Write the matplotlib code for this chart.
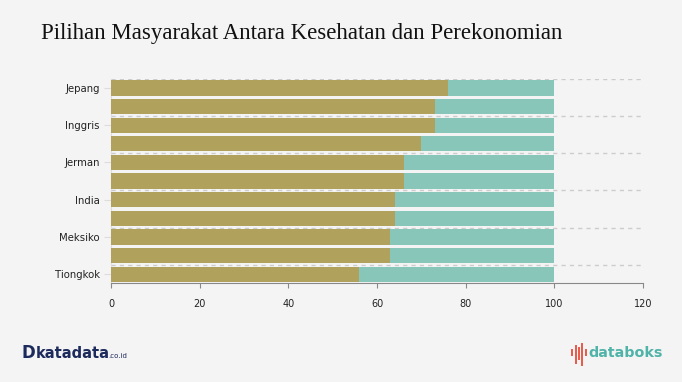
import matplotlib.pyplot as plt
from matplotlib.lines import Line2D

# data (11 rows, only every other row is labelled)
negara = ["Jepang", "", "Inggris", "", "Jerman", "", "India", "", "Meksiko", "", "Tiongkok"]
kesehatan = [76, 73, 73, 70, 66, 66, 64, 64, 63, 63, 56]
perekonomian = [24, 27, 27, 30, 34, 34, 36, 36, 37, 37, 44]
x_ticks = [0, 20, 40, 60, 80, 100, 120]

bg = "#f4f4f4"
olive = "#b0a15d"
teal = "#88c6b9"

fig = plt.figure(figsize=(6.82, 3.82), dpi=100, facecolor=bg)
ax = fig.add_axes([0.1628, 0.258, 0.78, 0.536])
ax.set_facecolor(bg)

pos = list(range(len(negara)))
ax.barh(pos, kesehatan, height=0.82, color=olive, zorder=3)
ax.barh(pos, perekonomian, left=kesehatan, height=0.82, color=teal, zorder=3)

ax.set_xlim(0, 120)
ax.set_ylim(len(negara) - 0.5, -0.5)

# dashed grid lines between every second row
for g in range(0, len(negara), 2):
    ax.axhline(g - 0.5, color="#cccccc", lw=1, ls=(0, (3, 3)), zorder=1)

ax.set_xticks(x_ticks)
ax.set_xticklabels([str(t) for t in x_ticks], fontsize=7, color="#222222")
ax.tick_params(axis="x", length=3.5, color="#888888", pad=8)

lab_pos = [p for p in pos if negara[p]]
ax.set_yticks(lab_pos)
ax.set_yticklabels([negara[p] for p in lab_pos], fontsize=7.3, color="#222222")
ax.tick_params(axis="y", length=5, color="#dddddd", pad=3)

for s in ["top", "right"]:
    ax.spines[s].set_visible(False)
ax.spines["bottom"].set_color("#888888")
ax.spines["left"].set_color("#dddddd")

fig.text(0.06, 0.912, "Pilihan Masyarakat Antara Kesehatan dan Perekonomian",
         fontsize=16.5, family="Liberation Serif", color="#111111", va="center")

# footer logos as text
fig.text(0.031, 0.075, "D", fontsize=12, fontweight="bold", color="#1c2a5c", va="center")
fig.text(0.052, 0.075, "katadata", fontsize=10.5, fontweight="bold", color="#1c2a5c", va="center")
fig.text(0.159, 0.068, ".co.id", fontsize=5, color="#1c2a5c", va="center")

fig.text(0.863, 0.075, "databoks", fontsize=10.3, fontweight="bold", color="#4fb3a8",
         va="center", ha="left")
bars_x = [0.839, 0.844, 0.849, 0.854, 0.859]
bars_y = [(0.07, 0.085), (0.05, 0.095), (0.06, 0.09), (0.045, 0.1), (0.07, 0.085)]
for bx, (y0, y1) in zip(bars_x, bars_y):
    fig.add_artist(Line2D([bx, bx], [y0, y1], color="#e8584a", lw=1.4, transform=fig.transFigure))

fig.savefig("out.png", dpi=100, facecolor=bg)
